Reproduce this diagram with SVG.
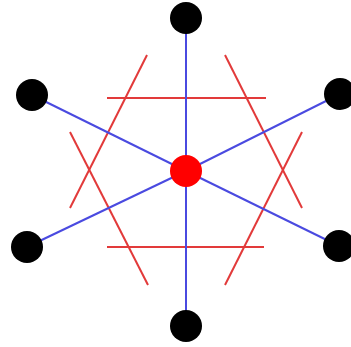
<svg xmlns="http://www.w3.org/2000/svg" width="351" height="347" viewBox="0 0 351 347">
<style>
.blue{stroke:#4a4ae0;stroke-width:2;fill:none}
.red{stroke:#e23a3a;stroke-width:2;fill:none}
.dot{fill:#000}
.hub{fill:#ff0000}
</style>
<rect width="351" height="347" fill="#fff"/>
<g id="pattern">
<line class="red" x1="107" y1="98" x2="266" y2="98"/>
<line class="red" x1="107" y1="247" x2="264" y2="247"/>
<line class="red" x1="147" y1="55" x2="70" y2="208"/>
<line class="red" x1="70" y1="132" x2="148" y2="285"/>
<line class="red" x1="225" y1="55" x2="302" y2="208"/>
<line class="red" x1="302" y1="132" x2="225" y2="285"/>
</g>
<g id="connectors">
<line class="blue" x1="186" y1="171" x2="186" y2="18"/>
<line class="blue" x1="186" y1="171" x2="186" y2="326"/>
<line class="blue" x1="186" y1="171" x2="32" y2="95"/>
<line class="blue" x1="186" y1="171" x2="340" y2="94"/>
<line class="blue" x1="186" y1="171" x2="27" y2="247"/>
<line class="blue" x1="186" y1="171" x2="339" y2="246"/>
</g>
<g id="n-top"><circle class="dot" cx="186" cy="18" r="16"/></g>
<g id="n-upper-left"><circle class="dot" cx="32" cy="95" r="16"/></g>
<g id="n-upper-right"><circle class="dot" cx="340" cy="94" r="16"/></g>
<g id="n-lower-left"><circle class="dot" cx="27" cy="247" r="16"/></g>
<g id="n-lower-right"><circle class="dot" cx="339" cy="246" r="16"/></g>
<g id="n-bottom"><circle class="dot" cx="186" cy="326" r="16"/></g>
<g id="n-center"><circle class="hub" cx="186" cy="171" r="16"/></g>
</svg>
